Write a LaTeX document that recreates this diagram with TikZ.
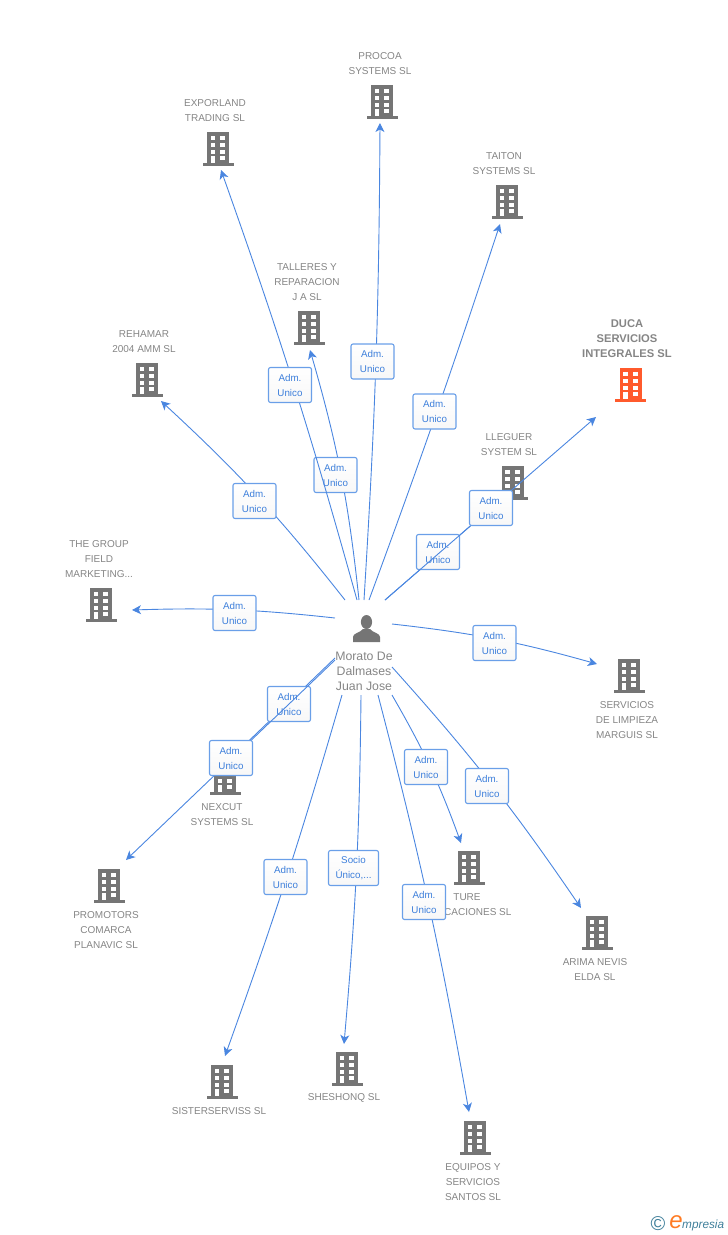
\documentclass[tikz,border=0pt]{standalone}
\usepackage{fontspec}
\setmainfont{Liberation Sans}
\usetikzlibrary{arrows.meta}
\definecolor{linkblue}{HTML}{4A86E0}
\definecolor{boxblue}{HTML}{6A9FE8}
\definecolor{boxtext}{HTML}{3D7FDB}
\definecolor{labelgray}{HTML}{858585}
\definecolor{iconorange}{HTML}{FF5A2C}
\definecolor{logoblue}{HTML}{3F7F9A}
\tikzset{
	link/.style={linkblue,line width=.9pt},
	arrow/.style={link,-{Stealth[length=9pt,width=9pt,inset=2.5pt]}},
	box/.style={draw=boxblue,line width=1.1pt,rounded corners=2pt,top color=white,bottom color=black!3,
		minimum width=43pt,minimum height=35pt,inner xsep=7pt,inner ysep=0pt,align=center,text=boxtext,
		font=\fontsize{9.8}{15}\selectfont},
	label/.style={align=center,inner sep=0pt,text=labelgray,font=\fontsize{10}{15}\selectfont},
	mainlabel/.style={label,font=\fontsize{11.2}{15}\selectfont\bfseries},
	personlabel/.style={label,font=\fontsize{12.3}{15}\selectfont},
	icon/.style={inner sep=0pt,minimum width=31pt,minimum height=34pt}
}
% building: name, x, top y, colour
\newcommand{\building}[4]{
	\node[icon,anchor=north] (#1) at (#2,#3) {};
	\fill[#4] (#2-11,#3) rectangle (#2+11,#3+32);
	\fill[#4] (#2-15.5,#3+31) rectangle (#2+15.5,#3+33.5);
	\foreach \wy in {4,11,17.5}
		\foreach \wx in {-7.5,2.4}
			\fill[white] (#2+\wx,#3+\wy) rectangle ++(4.8,4);
	\fill[white] (#2+2.4,#3+24) rectangle ++(4.8,4);
	\fill[white] (#2-7.5,#3+24) rectangle ++(4.8,7);
}
% relation: name, start, box centre, end, bend
\newcommand{\relation}[6][Adm.\\Unico]{
	\coordinate (#2s) at (#3);
	\coordinate (#2e) at (#5);
	\draw[arrow] (#2s) to[bend left=#6] (#2e);
	\node[box] (#2box) at (#4) {#1};
}
\begin{document}
\begin{tikzpicture}[x=1pt,y=-1pt]
	\useasboundingbox (0,0) rectangle (728,1235);

	% buildings
	\building{procoa}{382}{85}{black!54}
	\building{exporland}{218}{132}{black!54}
	\building{taiton}{507}{185}{black!54}
	\building{talleres}{309}{311}{black!54}
	\building{rehamar}{147}{363}{black!54}
	\building{duca}{630.5}{368}{iconorange}
	\building{lleguer}{512.5}{466}{black!54}
	\building{thegroup}{101}{588}{black!54}
	\building{servicios}{629}{659}{black!54}
	\building{nexcut}{225}{761}{black!54}
	\building{ture}{469}{851}{black!54}
	\building{promotors}{109}{869}{black!54}
	\building{arima}{597}{916}{black!54}
	\building{sisterserviss}{222}{1065}{black!54}
	\building{sheshonq}{347}{1052}{black!54}
	\building{equipos}{475}{1121}{black!54}

	% person
	\node[inner sep=0pt,minimum width=27pt,minimum height=27pt] (person) at (366.5,628.5) {};
	\fill[black!54] (366.5,622) ellipse (5.6 and 7);
	\fill[black!54] (353,642) -- (353,637) .. controls (353,633) and (360,633) .. (363,629)
		-- (370,629) .. controls (373,633) and (380,633) .. (380,637) -- (380,642) -- cycle;

	% labels
	\node[label] (procoalabel) at (380,63.5) {PROCOA\\SYSTEMS SL};
	\node[label] (exporlandlabel) at (215,110.5) {EXPORLAND\\TRADING SL};
	\node[label] (taitonlabel) at (504,163.5) {TAITON\\SYSTEMS SL};
	\node[label] (tallereslabel) at (307,282) {TALLERES Y\\REPARACION\\J A SL};
	\node[label] (rehamarlabel) at (144,341.5) {REHAMAR\\2004 AMM SL};
	\node[mainlabel] (ducalabel) at (627,339) {DUCA\\SERVICIOS\\INTEGRALES SL};
	\node[label] (lleguerlabel) at (509,444.5) {LLEGUER\\SYSTEM SL};
	\node[label] (thegrouplabel) at (99,559) {THE GROUP\\FIELD\\MARKETING...};
	\node[label] (servicioslabel) at (627,720) {SERVICIOS\\DE LIMPIEZA\\MARGUIS SL};
	\node[personlabel] (personlabel) at (364,671) {Morato De\\Dalmases\\Juan Jose};
	\node[label] (nexcutlabel) at (222,814.5) {NEXCUT\\SYSTEMS SL};
	\node[label] (turelabel) at (467,904.5) {TURE\\\phantom{APLI}CACIONES SL};
	\node[label] (promotorslabel) at (106,930) {PROMOTORS\\COMARCA\\PLANAVIC SL};
	\node[label] (arimalabel) at (595,969.5) {ARIMA NEVIS\\ELDA SL};
	\node[label] (sisterservisslabel) at (219,1111) {SISTERSERVISS SL};
	\node[label] (sheshonqlabel) at (344,1098) {SHESHONQ SL};
	\node[label] (equiposlabel) at (473,1182) {EQUIPOS Y\\SERVICIOS\\SANTOS SL};

	% relations
	\relation{procoarel}{364,600}{372.5,361.5}{380,123}{-1.6}
	\relation{talleresrel}{359,600}{335.5,475}{310,350}{-5}
	\relation{exporlandrel}{357,600}{290,385}{221,170}{-2}
	\relation{taitonrel}{369,600}{434.5,411.5}{500,224}{-1}
	\relation{rehamarrel}{345,600}{254.5,501}{161,401}{-4.5}
	\relation{lleguerrel}{385,600}{438,552}{491,508}{0}
	\relation{ducarel}{385,600}{491,508}{596,417}{0}
	\relation{thegrouprel}{335,618}{234.5,613}{132,610}{-4}
	\relation{serviciosrel}{392,624}{494.5,643}{597,664}{4.7}
	\relation{nexcutrel}{335,658}{289,704}{231,758}{0}
	\relation{promotorsrel}{335,660}{231,758}{126,860}{0}
	\relation{sisterrel}{342,695}{285.5,877}{225,1056}{1.8}
	\relation[Socio\\Único,...]{sheshonqrel}{361,695}{353.5,868}{344,1044}{2.2}
	\relation{equiposrel}{378,695}{424,902}{469,1112}{2.3}
	\relation{turerel}{392,695}{426,767}{461,843}{5}
	\relation{arimarel}{392,667}{487,786}{581,908}{3.8}

	% logo
	\node[inner sep=0pt,text=logoblue,font=\fontsize{20}{20}\selectfont] (logomark) at (658,1224) {©};
	\node[inner sep=0pt,text=iconorange!80!yellow,font=\fontsize{24}{24}\selectfont\itshape] (logoe) at (676,1222) {e};
	\node[inner sep=0pt,anchor=west,text=logoblue,font=\fontsize{11.8}{12}\selectfont\itshape] (logotext) at (682,1225) {mpresia};
\end{tikzpicture}
\end{document}
